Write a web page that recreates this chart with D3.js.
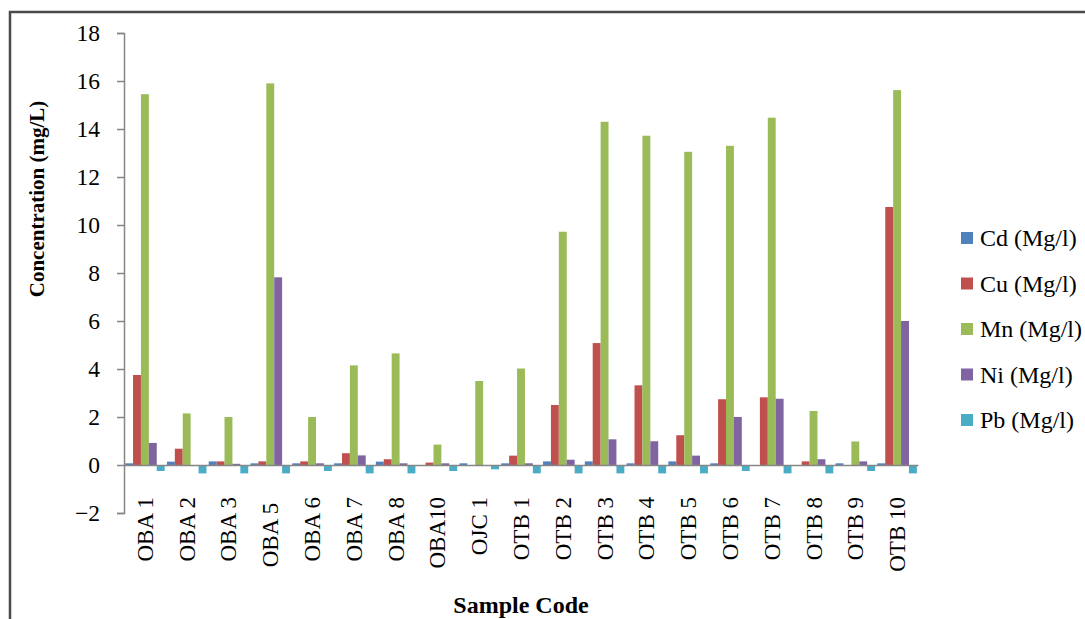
<!DOCTYPE html>
<html><head><meta charset="utf-8">
<script src="https://cdn.jsdelivr.net/npm/d3@7"></script>
<style>html,body{margin:0;padding:0;background:#fff;} svg{display:block;} svg text{font-family:'Liberation Serif','Times New Roman',serif;}</style>
</head><body>
<svg id="chart" width="1085" height="619"></svg>
<script>
const categories = ["OBA 1","OBA 2","OBA 3","OBA 5\u00a0","OBA 6","OBA 7","OBA 8","OBA10","OJC 1","OTB 1","OTB 2","OTB 3","OTB 4","OTB 5","OTB 6","OTB 7","OTB 8","OTB 9","OTB 10"];
const seriesNames = ["Cd (Mg/l)","Cu (Mg/l)","Mn (Mg/l)","Ni (Mg/l)","Pb (Mg/l)"];
const cd = [0.07,0.14,0.15,0.07,0.07,0.07,0.14,0.0,0.07,0.07,0.15,0.15,0.07,0.15,0.07,0.0,0.0,0.07,0.07];
const cu = [3.75,0.68,0.15,0.15,0.15,0.49,0.24,0.1,0.0,0.39,2.5,5.08,3.32,1.24,2.74,2.82,0.15,0.0,10.75];
const mn = [15.45,2.15,2.0,15.9,2.0,4.15,4.65,0.85,3.5,4.02,9.72,14.3,13.72,13.05,13.3,14.47,2.25,0.98,15.62];
const ni = [0.92,0.0,0.05,7.82,0.07,0.4,0.07,0.07,0.0,0.07,0.22,1.07,0.99,0.39,2.0,2.76,0.24,0.15,6.0];
const pb = [-0.25,-0.35,-0.35,-0.35,-0.25,-0.35,-0.35,-0.25,-0.18,-0.35,-0.35,-0.35,-0.35,-0.35,-0.25,-0.35,-0.35,-0.25,-0.35];
const yTicks = [-2,0,2,4,6,8,10,12,14,16,18];
const colors = ["#4F81BD","#C0504D","#9BBB59","#8064A2","#4BACC6"];
const seriesValues = [cd,cu,mn,ni,pb];

const svg = d3.select("#chart");
const font = "'Liberation Serif','Times New Roman',serif";

// outer frame
svg.append("rect").attr("x",10).attr("y",12).attr("width",1200).attr("height",700)
  .attr("fill","none").attr("stroke","#4a4a4a").attr("stroke-width",2.5);

const x0 = d3.scaleBand().domain(categories).range([124,918]).paddingInner(0).paddingOuter(0);
const inner = d3.scaleBand().domain(seriesNames).range([0,x0.bandwidth()]).paddingInner(0).paddingOuter(0.143);
const y = d3.scaleLinear().domain([-2,18]).range([513,33]);

// bars
seriesNames.forEach((s,si)=>{
  svg.append("g").selectAll("rect").data(categories).join("rect")
    .attr("x",c=>x0(c)+inner(s))
    .attr("width",inner.bandwidth())
    .attr("y",(c,i)=>y(Math.max(0,seriesValues[si][i])))
    .attr("height",(c,i)=>Math.abs(y(seriesValues[si][i])-y(0)))
    .attr("fill",colors[si]);
});

// y axis
const yAxis = d3.axisLeft(y).tickValues(yTicks).tickSize(7).tickPadding(17).tickFormat(d3.format("d"));
const gy = svg.append("g").attr("transform","translate(124,0)").call(yAxis);
gy.attr("font-family",null);
gy.select(".domain").attr("stroke","#868686").attr("stroke-width",1.5);
gy.selectAll(".tick line").attr("stroke","#868686").attr("stroke-width",1.5);
gy.selectAll(".tick text").style("font-family",font).attr("font-size",23.5).attr("fill","#000");

// zero line (category axis)
const xAxis = d3.axisBottom(x0).tickSize(0).tickFormat("");
const gx = svg.append("g").attr("transform",`translate(0,${y(0)})`).call(xAxis);
gx.select(".domain").attr("stroke","#868686").attr("stroke-width",1.5);

// category labels
svg.append("g").selectAll("text").data(categories).join("text")
  .attr("transform",c=>`translate(${x0(c)+x0.bandwidth()/2+8},497) rotate(-90)`)
  .attr("text-anchor","end")
  .style("font-family",font).attr("font-size",23).attr("fill","#000")
  .style("white-space","pre")
  .text(c=>c);

// axis titles
svg.append("text").attr("transform","translate(44,199) rotate(-90)")
  .attr("text-anchor","middle").style("font-family",font).attr("font-weight","bold")
  .attr("font-size",21).attr("fill","#000").text("Concentration (mg/L)");
svg.append("text").attr("x",521).attr("y",613)
  .attr("text-anchor","middle").style("font-family",font).attr("font-weight","bold")
  .attr("font-size",24).attr("fill","#000").text("Sample Code");

// legend
const lg = svg.append("g");
seriesNames.forEach((s,i)=>{
  const cy = 238 + i*45.5;
  lg.append("rect").attr("x",961).attr("y",cy-6).attr("width",12).attr("height",12).attr("fill",colors[i]);
  lg.append("text").attr("x",980).attr("y",cy+8).style("font-family",font).attr("font-size",24)
    .attr("fill","#000").text(s);
});
</script>
</body></html>
